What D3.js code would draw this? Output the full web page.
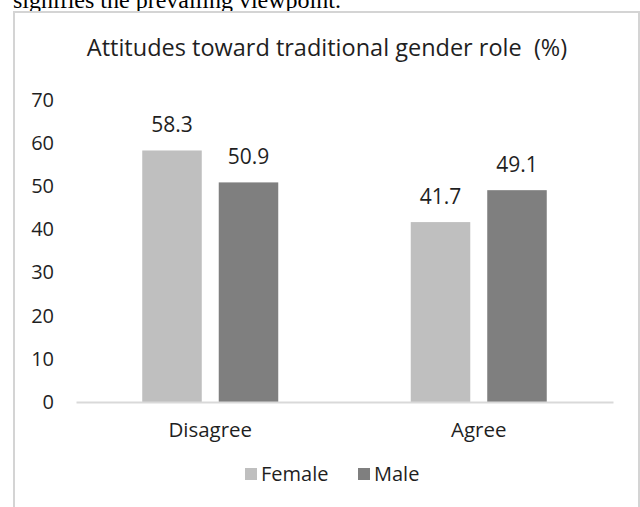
<!DOCTYPE html>
<html lang="en">
<head>
    <meta charset="UTF-8">
    <title>Attitudes toward traditional gender role</title>
    <style>
        body, html {
            margin: 0;
            padding: 0;
            background: #ffffff;
            overflow: hidden;
        }

        svg {
            display: block;
            font-family: 'Open Sans', sans-serif;
        }

        .frame {
            fill: none;
            stroke: #d4d4d4;
            stroke-width: 2px;
        }

        .above {
            font-family: 'Liberation Serif', serif;
            font-size: 24px;
            fill: #000;
        }

        .title {
            font-size: 23.5px;
            fill: #1f1f1f;
        }

        .y-axis text, .x-axis text, .value, .legend text {
            fill: #1f1f1f;
            font-family: 'Open Sans', sans-serif;
        }
    </style>
</head>
<body>
    <svg width="640" height="507"></svg>

    <script src="https://d3js.org/d3.v7.min.js"></script>
    <script>
        // chart data
        const categories = ["Disagree", "Agree"];
        const series = ["Female", "Male"];
        const female = [58.3, 41.7];
        const male = [50.9, 49.1];
        const yTicks = [0, 10, 20, 30, 40, 50, 60, 70];
        const colors = ["#bfbfbf", "#7f7f7f"];

        const values = [female, male];
        const svg = d3.select("svg");

        // leftover text from the page above the chart
        svg.append("text")
            .attr("class", "above")
            .attr("x", 13)
            .attr("y", 8)
            .text("signifies the prevailing viewpoint.");

        svg.append("rect")
            .attr("class", "frame")
            .attr("x", 14)
            .attr("y", 12)
            .attr("width", 625)
            .attr("height", 520);

        svg.append("text")
            .attr("class", "title")
            .attr("x", 327)
            .attr("y", 56)
            .attr("text-anchor", "middle")
            .style("white-space", "pre")
            .text("Attitudes toward traditional gender role  (%)");

        const y = d3.scaleLinear()
            .domain([0, 70])
            .range([402, 100]);

        const x0 = d3.scaleBand()
            .domain(categories)
            .range([76, 613])
            .padding(0);

        const groupW = 136;
        const x1 = d3.scaleBand()
            .domain(series)
            .range([(x0.bandwidth() - groupW) / 2, (x0.bandwidth() + groupW) / 2])
            .paddingInner(0.222)
            .paddingOuter(0);

        // y axis labels only
        const yAxis = svg.append("g")
            .attr("class", "y-axis")
            .attr("transform", "translate(54,0)")
            .call(d3.axisLeft(y).tickValues(yTicks).tickSize(0).tickPadding(0));
        yAxis.select(".domain").remove();
        yAxis.selectAll("text").style("font-size", "20px");

        // bars
        const groups = svg.selectAll(".cat")
            .data(categories)
            .enter()
            .append("g")
            .attr("class", "cat")
            .attr("transform", d => `translate(${x0(d)},0)`);

        groups.selectAll("rect")
            .data((d, i) => series.map((s, j) => ({ s: s, v: values[j][i], j: j })))
            .enter()
            .append("rect")
            .attr("x", d => x1(d.s))
            .attr("y", d => y(d.v))
            .attr("width", x1.bandwidth())
            .attr("height", d => y(0) - y(d.v))
            .attr("fill", d => colors[d.j]);

        groups.selectAll(".value")
            .data((d, i) => series.map((s, j) => ({ s: s, v: values[j][i] })))
            .enter()
            .append("text")
            .attr("class", "value")
            .attr("x", d => x1(d.s) + x1.bandwidth() / 2)
            .attr("y", d => y(d.v) - 18)
            .attr("text-anchor", "middle")
            .style("font-size", "21px")
            .text(d => d.v.toFixed(1));

        // x axis
        const xAxis = svg.append("g")
            .attr("class", "x-axis")
            .attr("transform", `translate(0,${y(0)})`)
            .call(d3.axisBottom(x0).tickSize(0).tickPadding(20));
        xAxis.select(".domain")
            .attr("stroke", "#d9d9d9")
            .attr("stroke-width", 2);
        xAxis.selectAll("text").style("font-size", "20.5px");

        // legend
        const legendX = [245, 358];
        const legend = svg.selectAll(".legend")
            .data(series)
            .enter()
            .append("g")
            .attr("class", "legend")
            .attr("transform", (d, i) => `translate(${legendX[i]},468)`);

        legend.append("rect")
            .attr("width", 12)
            .attr("height", 12)
            .attr("fill", (d, i) => colors[i]);

        legend.append("text")
            .attr("x", 16)
            .attr("y", 13)
            .style("font-size", "20px")
            .text(d => d);
    </script>
</body>
</html>
